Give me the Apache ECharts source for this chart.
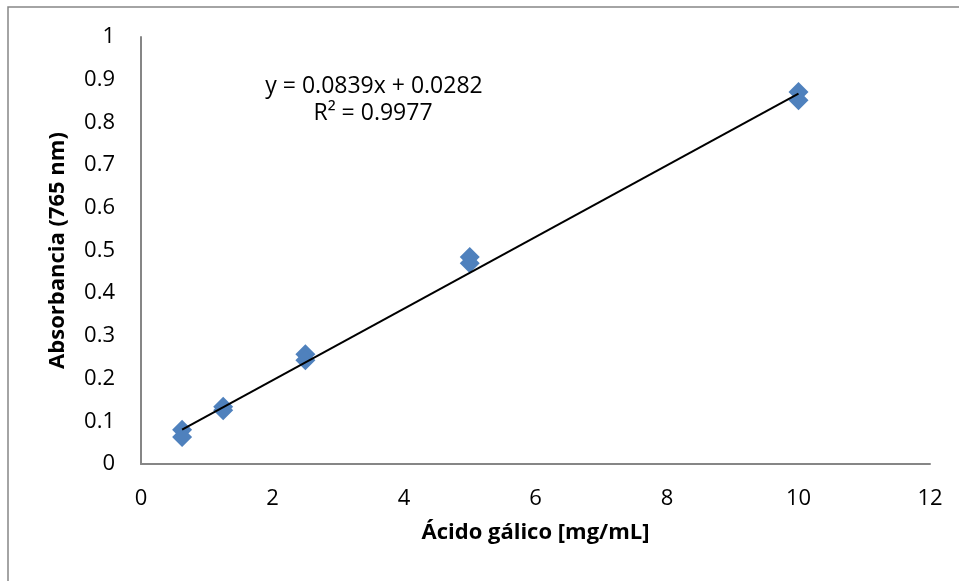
<!DOCTYPE html>
<html>
<head>
<meta charset="utf-8">
<script src="https://cdn.jsdelivr.net/npm/echarts@6/dist/echarts.min.js"></script>
<style>
  html, body { margin: 0; padding: 0; background: #fff; }
  #main { width: 959px; height: 581px; }
</style>
</head>
<body>
<div id="main"></div>
<script>
// concentraciones de ácido gálico (mg/mL) y absorbancias leídas
var concentracion = [0.625, 0.625, 1.25, 1.25, 2.5, 2.5, 5, 5, 10, 10];
var absorbancia = [0.080, 0.063, 0.134, 0.126, 0.257, 0.243, 0.485, 0.470, 0.871, 0.852];

// extremos de la línea de tendencia
var tendenciaX = [0.625, 10];
var tendenciaY = [0.0806, 0.8672];

var ecuacion = 'y = 0.0839x + 0.0282';
var r2 = 'R² = 0.9977';

var fuente = '"Open Sans", "Noto Sans", sans-serif';

var puntos = concentracion.map(function (x, i) { return [x, absorbancia[i]]; });
var tendencia = tendenciaX.map(function (x, i) { return [x, tendenciaY[i]]; });

var myChart = echarts.init(document.getElementById('main'));
myChart.setOption({
    animation: false,
    backgroundColor: '#fff',
    grid: {
        left: 141,
        right: 29,
        top: 37,
        bottom: 117
    },
    graphic: [
        {
            type: 'rect',
            shape: { x: 8, y: 7, width: 1200, height: 1200 },
            style: { fill: 'none', stroke: '#868686', lineWidth: 1.5 },
            silent: true
        },
        {
            type: 'text',
            x: 374, y: 86,
            style: { text: ecuacion, font: '23px ' + fuente, fill: '#000', align: 'center', verticalAlign: 'middle' }
        },
        {
            type: 'text',
            x: 373, y: 113,
            style: { text: r2, font: '23px ' + fuente, fill: '#000', align: 'center', verticalAlign: 'middle' }
        }
    ],
    xAxis: {
        type: 'value',
        min: 0,
        max: 12,
        interval: 2,
        name: 'Ácido gálico [mg/mL]',
        nameLocation: 'middle',
        nameGap: 58,
        nameTextStyle: { fontFamily: fuente, fontSize: 22, fontWeight: 'bold', color: '#000' },
        axisLine: { lineStyle: { color: '#868686', width: 2 } },
        axisTick: { show: false },
        splitLine: { show: false },
        axisLabel: { fontFamily: fuente, fontSize: 22, color: '#000', margin: 24 }
    },
    yAxis: {
        type: 'value',
        min: 0,
        max: 1,
        interval: 0.1,
        name: 'Absorbancia (765 nm)',
        nameLocation: 'middle',
        nameGap: 72,
        nameTextStyle: { fontFamily: fuente, fontSize: 22, fontWeight: 'bold', color: '#000' },
        axisLine: { show: true, lineStyle: { color: '#868686', width: 2 } },
        axisTick: { show: false },
        splitLine: { show: false },
        axisLabel: { fontFamily: fuente, fontSize: 22, color: '#000', margin: 26 }
    },
    series: [
        {
            name: 'tendencia',
            type: 'line',
            data: tendencia,
            symbol: 'none',
            lineStyle: { color: '#000', width: 2 },
            z: 3
        },
        {
            name: 'Absorbancia',
            type: 'scatter',
            data: puntos,
            symbol: 'diamond',
            symbolSize: [20, 20],
            itemStyle: { color: '#4F81BD', opacity: 1 },
            z: 2
        }
    ]
});
</script>
</body>
</html>
